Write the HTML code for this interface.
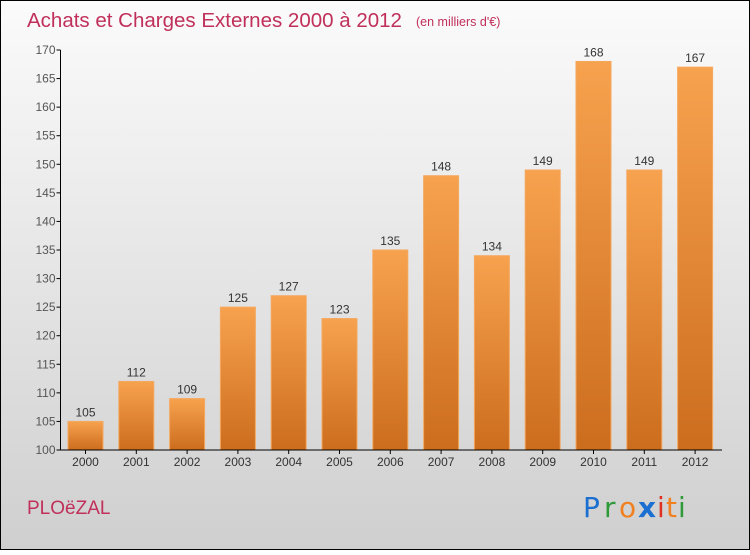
<!DOCTYPE html>
<html><head><meta charset="utf-8"><style>
html,body{margin:0;padding:0}
body{width:750px;height:550px;overflow:hidden;font-family:"Liberation Sans",sans-serif}
</style></head><body>
<svg width="750" height="550" xmlns="http://www.w3.org/2000/svg">
<defs>
<linearGradient id="bg" x1="0" y1="0" x2="0" y2="1"><stop offset="0" stop-color="#fbfbfb"/><stop offset="1" stop-color="#cfcfcf"/></linearGradient>
<linearGradient id="bar" x1="0" y1="0" x2="0" y2="1"><stop offset="0" stop-color="#f7a24e"/><stop offset="1" stop-color="#cc6d1e"/></linearGradient>
</defs>
<rect x="0.5" y="0.5" width="749" height="549" fill="url(#bg)" stroke="#000"/>
<text x="27" y="27" font-size="20.5" fill="#c0305a" font-weight="300">Achats et Charges Externes 2000 à 2012</text>
<text x="416" y="26" font-size="12.5" fill="#c0305a">(en milliers d'€)</text>
<g id="bars"></g>
<g id="axes"></g>
<text x="27" y="514" font-size="19" fill="#c0305a">PLOëZAL</text>
<g font-size="28" font-family="'DejaVu Sans',sans-serif">
<text x="583" y="517" fill="#1a6fd0">P</text><text x="604" y="517" fill="#2e9a3a">r</text><text x="619" y="517" fill="#f08020">o</text><text x="638" y="517" fill="#1a6fd0" font-weight="bold">x</text><text x="657" y="517" fill="#e03020">i</text><text x="666" y="517" fill="#f08020">t</text><text x="678" y="517" fill="#2e9a3a">i</text>
</g>
</svg>
<script>
const categories=["2000","2001","2002","2003","2004","2005","2006","2007","2008","2009","2010","2011","2012"];
const values=[105,112,109,125,127,123,135,148,134,149,168,149,167];
const yTicks=[100,105,110,115,120,125,130,135,140,145,150,155,160,165,170];
const NS="http://www.w3.org/2000/svg";
const x0=60.5,yBase=450,yMin=100,yMax=170,yTop=50,step=50.8,firstC=85.5,bw=35;
const y=v=>yBase-(v-yMin)/(yMax-yMin)*(yBase-yTop);
const xc=i=>firstC+i*step;
function mk(t,a,p){const e=document.createElementNS(NS,t);for(const k in a)e.setAttribute(k,a[k]);p.appendChild(e);return e;}
const bars=document.getElementById('bars'),axes=document.getElementById('axes');
values.forEach((v,i)=>{
 const r=mk('rect',{x:xc(i)-bw/2,y:y(v),width:bw,height:yBase-y(v),fill:'url(#bar)',stroke:'#f4a860','stroke-width':1},bars);
 
 
 const t=mk('text',{x:xc(i),y:y(v)-5,'text-anchor':'middle','font-size':12,fill:'#333'},bars);
 t.textContent=v;
 
 
 const c=mk('text',{x:xc(i),y:466,'text-anchor':'middle','font-size':12,fill:'#333'},axes);
 c.textContent=categories[i];
 
 
 mk('line',{x1:xc(i),x2:xc(i),y1:yBase,y2:yBase+4,stroke:'#000'},axes);
});
yTicks.forEach(v=>{
 mk('line',{x1:x0-4,x2:x0,y1:y(v),y2:y(v),stroke:'#000'},axes);
 const t=mk('text',{x:x0-5,y:y(v)+4,'text-anchor':'end','font-size':12,fill:'#555'},axes);
 t.textContent=v;
 
 
});
const ya=mk('line',{x1:x0,x2:x0,y1:yTop,y2:yBase,stroke:'#000'},axes);


const xa=mk('line',{x1:x0,x2:722,y1:yBase,y2:yBase,stroke:'#000'},axes);


</script>
</body></html>
